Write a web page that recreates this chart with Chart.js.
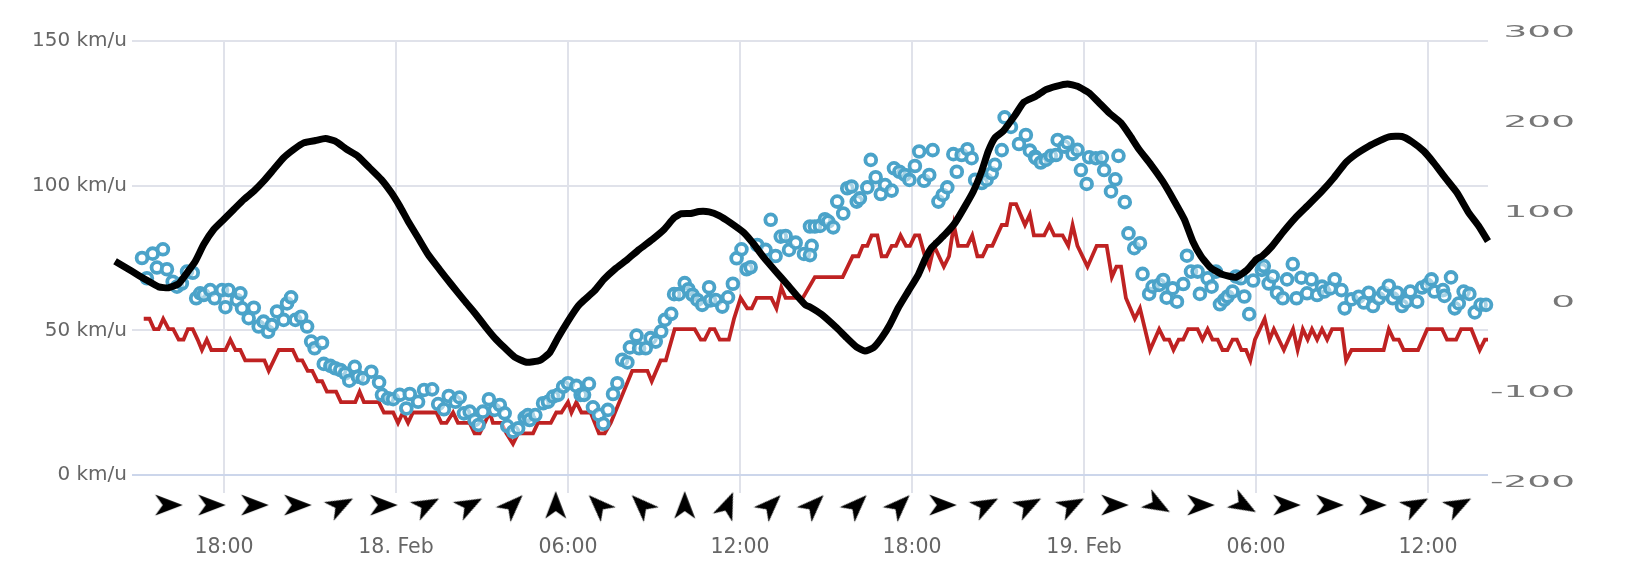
<!DOCTYPE html>
<html>
<head>
<meta charset="utf-8">
<script src="https://cdn.jsdelivr.net/npm/chart.js@4"></script>
<style>html,body{margin:0;padding:0;background:#fff;}canvas{display:block;}</style>
</head>
<body>
<canvas id="c" width="1631" height="586"></canvas>
<script>
// Hours counted from 18:00 on 17 Feb
const tickHours = [0, 6, 12, 18, 24, 30, 36, 42];
const tickLabels = ['18:00', '18. Feb', '06:00', '12:00', '18:00', '19. Feb', '06:00', '12:00'];
const leftTicks = [0, 50, 100, 150];
const rightTicks = [-200, -100, 0, 100, 200, 300];

const blackHours = [-3.8,-3.21,-2.74,-2.28,-1.93,-1.58,-1.29,-1.0,-0.71,-0.36,-0.01,0.34,0.69,1.04,1.38,1.73,2.08,2.43,2.78,3.19,3.54,3.88,4.29,4.67,5.08,5.49,5.84,6.13,6.42,6.77,7.12,7.52,7.93,8.4,8.74,9.15,9.44,9.79,10.14,10.55,11.01,11.36,11.65,12.0,12.35,12.56,12.91,13.25,13.66,14.07,14.48,14.94,15.35,15.7,15.93,16.28,16.57,16.92,17.27,17.67,18.14,18.49,18.84,19.24,19.65,20.0,20.29,20.44,20.85,21.37,21.72,22.07,22.36,22.65,22.94,23.23,23.52,23.87,24.22,24.45,24.68,25.15,25.5,25.85,26.14,26.43,26.66,26.89,27.18,27.59,27.9,28.32,28.67,29.02,29.42,29.77,30.18,30.53,30.88,31.29,31.58,31.92,32.33,32.74,33.15,33.5,33.79,34.08,34.42,34.83,35.3,35.7,36.0,36.21,36.56,36.97,37.37,37.84,38.3,38.71,39.12,39.47,39.93,40.28,40.63,41.09,41.44,41.85,42.2,42.6,43.01,43.42,43.77,44.09];
const blackValues = [46.3,35,26,17.8,16.7,21.2,33.4,46.3,64.9,81.5,92.6,103.7,114.9,124.1,135.2,148.2,161.2,170.4,177.8,180.4,182.6,179.7,170.4,163,150,137,122.3,107.5,90.8,72.3,53.7,37,20.4,1.9,-11,-27.7,-38.8,-50,-60.3,-65.9,-64,-55.5,-38.8,-20.3,-3.7,3,13,26,38.2,48.2,59.3,70.4,81.5,94.5,98.9,99.3,101.5,101.1,97,88.9,77.8,64.8,50,35.2,20.4,7.4,-2.6,-4.5,-12.9,-27.7,-38.8,-49.2,-53.6,-50,-38.8,-24,-5.5,13,31.5,48.2,61.2,76,88.9,107.5,124.1,146.4,168.6,183.4,190.8,208.5,223,229.6,237,240.7,243.3,240.7,233.3,222.2,211,200,187,170.4,153.7,135.2,113,92.6,68.5,51.8,38.9,31.5,28.5,37,48.1,52,63,79.7,94.5,109.3,124.1,138.9,155.6,164.9,174.1,179.7,184.5,184.9,178.9,168.6,155.6,138.9,122.3,100,85.2,68.6];

const redHours = [-2.80,-2.60,-2.44,-2.28,-2.12,-1.93,-1.77,-1.58,-1.41,-1.26,-1.09,-0.92,-0.77,-0.60,-0.44,0.05,0.22,0.40,0.57,0.74,1.41,1.56,1.91,2.40,2.57,2.73,2.92,3.08,3.26,3.42,3.59,3.91,4.08,4.58,4.73,4.88,5.40,5.58,5.90,6.07,6.24,6.42,6.59,7.41,7.58,7.76,7.99,8.16,8.57,8.74,8.92,9.27,9.38,9.67,9.85,10.08,10.26,10.78,10.95,11.40,11.59,11.77,12.0,12.12,12.29,12.47,12.79,13.08,13.28,13.49,14.24,14.77,14.92,15.23,15.41,15.72,16.42,16.63,16.77,16.95,17.11,17.29,17.61,17.79,18.02,18.25,18.41,18.58,19.09,19.27,19.44,19.59,20.19,20.61,21.58,21.93,22.13,22.28,22.44,22.59,22.79,22.94,23.11,23.29,23.44,23.6,23.79,23.93,24.1,24.25,24.45,24.6,24.77,25.11,25.29,25.46,25.61,25.93,26.1,26.28,26.46,26.63,26.8,27.13,27.3,27.44,27.63,27.94,28.11,28.25,28.61,28.79,28.96,29.25,29.45,29.6,29.77,30.12,30.44,30.79,30.97,31.13,31.29,31.46,31.77,31.95,32.3,32.62,32.8,32.97,33.12,33.3,33.46,33.63,33.96,34.13,34.31,34.48,34.66,34.83,35.0,35.18,35.33,35.49,35.65,35.8,35.96,36.3,36.47,36.62,36.97,37.29,37.45,37.63,37.8,37.95,38.13,38.3,38.48,38.65,39.0,39.14,39.33,40.45,40.63,40.8,40.98,41.15,41.65,41.97,42.49,42.66,42.98,43.15,43.51,43.8,43.98,44.09];
const redValues = [54,54,50.4,50.4,54,50.4,50.4,46.8,46.8,50.4,50.4,46.8,43.2,46.8,43.2,43.2,46.8,43.2,43.2,39.6,39.6,36,43.2,43.2,39.6,39.6,36,36,32.4,32.4,28.8,28.8,25.2,25.2,28.8,25.2,25.2,21.6,21.6,18,21.6,18,21.6,21.6,18,18,21.6,18,18,14.4,14.4,21.6,18,18,14.4,10.8,14.4,14.4,18,18,21.6,21.6,25.2,21.6,25.2,21.6,21.6,14.4,14.4,18,36,36,32.4,39.6,39.6,50.4,50.4,46.8,46.8,50.4,50.4,46.8,46.8,54,61.2,57.6,57.6,61.2,61.2,57.6,64.8,61.2,61.2,68.4,68.4,75.6,75.6,79.2,79.2,82.8,82.8,75.6,75.6,79.2,79.2,82.8,79.2,79.2,82.8,82.8,75.6,72,79.2,72,75.6,86.4,79.2,79.2,82.8,75.6,75.6,79.2,79.2,86.4,86.4,93.6,93.6,86.4,90,82.8,82.8,86.4,82.8,82.8,79.2,86.4,79.2,72,79.2,79.2,68.4,72,72,61.2,54,57.6,43.2,50.4,46.8,46.8,43.2,46.8,46.8,50.4,50.4,46.8,50.4,46.8,46.8,43.2,43.2,46.8,46.8,43.2,43.2,39.6,46.8,54,46.8,50.4,43.2,50.4,43.2,50.4,46.8,50.4,46.8,50.4,46.8,50.4,50.4,39.6,43.2,43.2,50.4,46.8,46.8,43.2,43.2,50.4,50.4,46.8,46.8,50.4,50.4,43.2,46.8,46.8];

const blueHours = [-2.86,-2.49,-2.13,-2.69,-2.34,-1.99,-1.79,-1.64,-1.47,-1.29,-1.09,-0.97,-0.83,-0.71,-0.48,-0.33,-0.07,0.05,0.16,0.45,0.57,0.63,0.86,1.04,1.21,1.38,1.54,1.67,1.85,2.08,2.20,2.34,2.49,2.69,2.90,3.04,3.16,3.42,3.48,3.71,3.88,4.06,4.23,4.37,4.56,4.67,4.85,5.14,5.41,5.51,5.72,5.90,6.13,6.36,6.48,6.77,6.98,7.26,7.47,7.67,7.84,8.07,8.22,8.37,8.57,8.74,8.88,9.03,9.24,9.44,9.62,9.79,9.88,10.08,10.26,10.49,10.6,10.66,10.86,11.13,11.30,11.48,11.65,11.83,12.0,12.29,12.44,12.56,12.73,12.87,13.08,13.23,13.39,13.57,13.72,13.89,14.07,14.16,14.39,14.48,14.71,14.88,15.06,15.25,15.38,15.60,15.70,15.87,16.07,16.20,16.34,16.51,16.68,16.92,16.95,17.15,17.38,17.58,17.75,17.88,18.05,18.23,18.37,18.60,18.89,19.24,19.07,19.42,19.59,19.71,19.94,20.23,20.44,20.50,20.44,20.61,20.79,20.96,21.08,21.25,21.39,21.60,21.74,21.89,22.07,22.18,22.44,22.56,22.73,22.91,23.06,23.29,23.37,23.56,23.75,23.91,24.10,24.25,24.42,24.60,24.72,24.92,25.07,25.23,25.44,25.56,25.73,25.93,26.08,26.20,26.43,26.60,26.78,26.89,27.13,27.23,27.45,27.73,27.97,28.11,28.29,28.32,28.49,28.67,28.84,29.02,29.08,29.31,29.42,29.60,29.77,29.89,30.09,30.18,30.41,30.62,30.70,30.94,31.09,31.20,31.42,31.55,31.75,31.95,32.04,32.27,32.39,32.62,32.76,32.88,33.09,33.24,33.46,33.59,33.73,33.96,34.04,34.31,34.45,34.60,34.74,34.89,35.01,35.18,35.30,35.47,35.59,35.76,35.90,36.2,36.27,36.44,36.58,36.73,36.93,37.08,37.28,37.41,37.58,37.78,37.93,38.13,38.30,38.38,38.59,38.74,38.98,39.09,39.33,39.58,39.76,39.93,40.08,40.28,40.45,40.63,40.77,40.92,41.09,41.23,41.38,41.62,41.79,41.97,42.12,42.22,42.52,42.57,42.80,42.93,43.07,43.24,43.44,43.63,43.83,44.02];
const blueValues = [75.0,76.5,78.0,68.0,71.7,71.1,66.8,65.1,66.2,70.3,69.9,61.1,62.8,62.2,63.9,61.1,63.9,58.0,63.9,60.5,62.8,57.6,54.2,57.8,51.3,53.0,49.5,51.8,56.5,53.6,59.3,61.4,53.6,54.7,51.3,46.1,43.8,45.7,38.4,37.7,36.9,36.3,35.1,32.6,37.4,34.0,33.4,35.7,32.0,27.7,26.5,26.2,27.7,23.0,28.0,25.3,29.4,29.6,24.5,22.7,27.3,25.3,26.8,21.3,21.9,19.0,17.3,21.9,26.2,22.5,24.2,21.3,16.9,15.0,16.1,19.9,20.7,19.0,20.7,24.8,25.3,27.1,27.7,30.5,31.7,30.8,27.7,27.7,31.5,23.4,20.8,17.7,22.5,28.0,31.7,39.8,38.9,44.1,48.2,43.8,43.8,47.3,46.1,49.6,53.6,55.7,62.5,62.5,66.3,64.2,62.3,60.5,58.8,64.9,60.3,60.5,58.2,61.4,66.1,74.9,78.0,71.1,71.8,79.5,77.8,75.7,88.2,82.4,82.6,77.8,80.3,76.4,85.9,79.2,76.0,85.9,86.1,88.4,87.6,85.6,94.5,90.4,99.1,99.7,94.5,95.6,99.4,108.9,102.9,97.1,100.2,98.3,106.0,104.8,103.7,102.0,106.8,111.8,101.7,103.7,112.3,94.5,96.8,99.4,110.9,104.8,110.6,112.6,109.5,102.0,100.9,102,104.3,107.2,112.3,123.6,120.3,114.4,117.5,112.1,110,109.5,108,108.9,110.3,110.6,115.8,113.5,114.9,111,112.4,105.4,100.6,109.8,109.5,109.7,105.4,98,102.2,110.3,94.3,83.5,78.4,80.1,69.5,62.6,65.1,65.7,67.4,61.3,64.5,59.9,66,75.8,70.3,70.3,62.6,68,65.1,70.3,59,60.5,61.7,63.4,68.6,68,61.7,55.6,67.2,70.9,72.2,66.2,68.6,63,61.1,67.6,72.9,61.1,68.2,62.8,67.6,62.2,65.1,63.4,64.5,67.6,63.9,57.6,60.7,61.6,59.6,63,58.4,61.1,63,65.4,61.1,63,58.4,59.9,63.4,59.9,64.8,65.7,67.6,63.4,63.9,61.9,68.3,57.6,59.3,63.4,62.6,56.2,58.8,58.8];

const arrowHours = [-1.93,-0.43,1.07,2.57,4.07,5.57,7.07,8.57,10.07,11.57,13.07,14.57,16.07,17.57,19.07,20.57,22.07,23.57,25.07,26.57,28.07,29.57,31.07,32.57,34.07,35.57,37.07,38.57,40.07,41.57,43.07];
const arrowBearings = [90,90,90,90,62,90,62,62,45,0,315,315,0,22.5,45,45,45,45,90,62,62,62,90,120,90,120,90,90,90,62,62];

const arrowRowValue = -10.4; // row below the zero line, on the left axis

function zip(xs, ys) { return xs.map((x, i) => ({ x, y: ys[i] })); }

function arrowSprite() {
  const c = document.createElement('canvas');
  c.width = 32; c.height = 32;
  const g = c.getContext('2d');
  g.translate(16, 16);
  g.fillStyle = '#000';
  g.beginPath();
  g.moveTo(0, -14);
  g.lineTo(10.5, 13.5);
  g.lineTo(0, 6);
  g.lineTo(-10.5, 13.5);
  g.closePath();
  g.fill();
  return c;
}

function setTicks(list) {
  return scale => { scale.ticks = list.map(v => ({ value: v })); };
}

const stretchRightLabels = {
  id: 'stretchRightLabels',
  beforeDraw(chart) {
    const s = chart.scales.yRight;
    if (s._stretched) return;
    s._stretched = true;
    const orig = s.drawLabels;
    s.drawLabels = function (area) {
      const c = this.ctx, x0 = this.right;
      c.save();
      c.translate(x0, 0);
      c.scale(2.5, 1);
      c.translate(-x0, 0);
      orig.call(this, area);
      c.restore();
    };
  }
};

new Chart(document.getElementById('c'), {
  type: 'line',
  plugins: [stretchRightLabels],
  data: {
    datasets: [
      { label: 'black', yAxisID: 'yRight', data: zip(blackHours, blackValues), borderColor: '#000', borderWidth: 7, pointRadius: 0, tension: 0.15, clip: false, order: 1 },
      { label: 'blue', yAxisID: 'y', data: zip(blueHours, blueValues), showLine: false, pointRadius: 5.4, pointBorderWidth: 3.8, pointBorderColor: '#4ba3c9', pointBackgroundColor: 'rgba(255,255,255,0.5)', order: 2 },
      { label: 'red', yAxisID: 'y', data: zip(redHours, redValues), borderColor: '#bf2222', borderWidth: 3.8, pointRadius: 0, tension: 0, order: 3 },
      { label: 'direction', yAxisID: 'y', data: arrowHours.map(x => ({ x, y: arrowRowValue })), showLine: false, pointStyle: arrowSprite(), pointRadius: 14, pointRotation: arrowBearings, clip: false, order: 4 }
    ]
  },
  options: {
    responsive: false,
    animation: false,
    devicePixelRatio: 1,
    layout: { padding: { top: 41, right: 56, left: 0, bottom: 0 } },
    plugins: { legend: { display: false }, tooltip: { enabled: false } },
    events: [],
    scales: {
      x: {
        type: 'linear',
        bounds: 'data',
        afterDataLimits(s) { s.min = -3.209; s.max = 44.09; },
        afterBuildTicks: setTicks(tickHours),
        afterFit(s) { s.height = 93; },
        border: { display: false },
        grid: { color: '#e0e2ea', lineWidth: 2, drawTicks: false },
        ticks: {
          autoSkip: false, maxRotation: 0, padding: 42, color: '#666',
          font: { family: 'DejaVu Sans', size: 20.5 },
          callback(v, i) { return tickLabels[i]; }
        }
      },
      y: {
        position: 'left',
        min: -6.22, max: 150,
        afterBuildTicks: setTicks(leftTicks),
        afterFit(s) { s.width = 132; },
        border: { display: false },
        grid: { color: c => c.tick && c.tick.value === 0 ? '#ccd6eb' : '#e0e2ea', lineWidth: 2, drawTicks: false },
        ticks: {
          autoSkip: false, padding: 5, color: '#666',
          font: { family: 'DejaVu Sans', size: 20 },
          callback(v) { return v + ' km/u'; }
        }
      },
      yRight: {
        position: 'right',
        min: -211.3, max: 291,
        afterBuildTicks: setTicks(rightTicks),
        afterFit(s) { s.width = 87; },
        border: { display: false },
        grid: { display: false },
        ticks: {
          autoSkip: false, crossAlign: 'far', padding: 0, color: '#777',
          font: { family: 'DejaVu Sans', size: 15 },
          callback(v) { return String(v); }
        }
      }
    }
  }
});
</script>
</body>
</html>
